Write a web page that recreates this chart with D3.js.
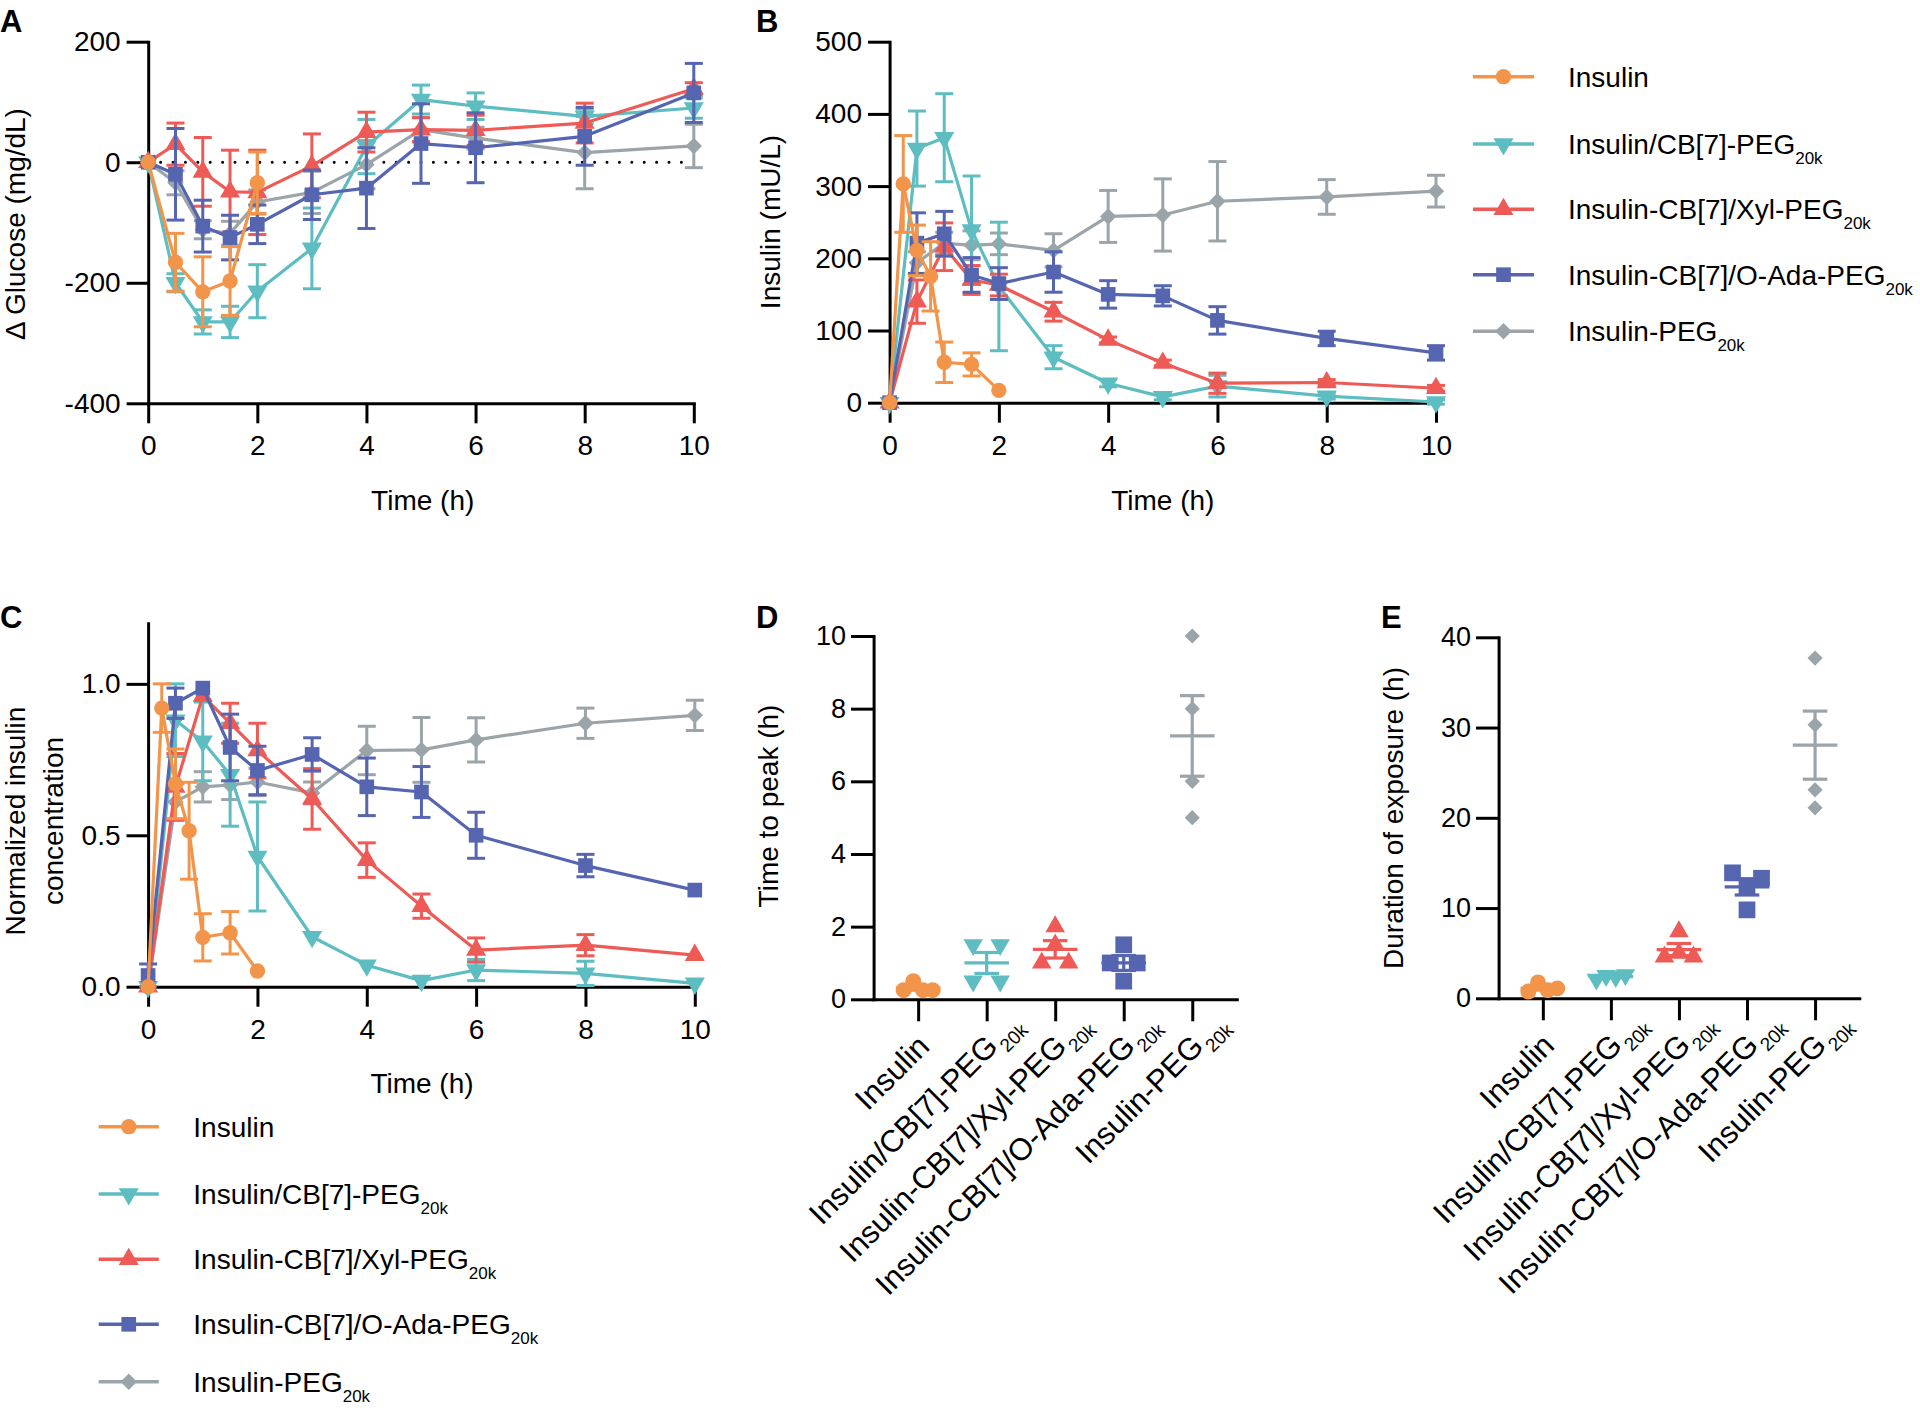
<!DOCTYPE html>
<html><head><meta charset="utf-8">
<script src="https://cdn.jsdelivr.net/npm/d3@7"></script>
<style>
body{margin:0;background:#fff}
svg{display:block}
text{font-family:Arial,"Liberation Sans",Helvetica,sans-serif;fill:#000}
</style>
</head><body>
<svg id="chart" width="1920" height="1411"></svg>
<script>
// ---------- shared ----------
const seriesNames = ["Insulin","Insulin/CB[7]-PEG","Insulin-CB[7]/Xyl-PEG","Insulin-CB[7]/O-Ada-PEG","Insulin-PEG"];
const seriesSubs  = ["","20k","20k","20k","20k"];
const colors      = ["#F2954A","#5DBDC1","#EE5A55","#5565B0","#9BA5A9"];
const symbolKinds = ["circle","triangleDown","triangle","square","diamond"];

const timeStd   = [0,0.5,1,1.5,2,3,4,5,6,8,10];
const timeInsA  = [0,0.5,1,1.5,2];
const timeInsPK = [0,0.25,0.5,0.75,1,1.5,2];

// ---------- Panel A: delta glucose (mg/dL) ----------
const gluInsulin     = [0,-166,-215,-197,-34];
const gluInsulinErr  = [0,48,58,57,51];
const gluCB7         = [0,-200,-265,-265,-214,-143,26,104,93,76,90];
const gluCB7Err      = [0,15,20,26,44,67,45,24,22,12,17];
const gluXyl         = [0,30,-16,-49,-50,-6,50,54,53,65,122];
const gluXylErr      = [0,35,57,69,70,53,33,20,25,33,10];
const gluAda         = [0,-20,-106,-125,-103,-54,-43,31,24,43,115];
const gluAdaErr      = [0,76,43,37,32,41,67,66,58,48,49];
const gluPEG         = [0,-34,-112,-118,-66,-50,-4,54,40,16,27];
const gluPEGErr      = [0,20,15,20,20,35,40,20,18,60,36];
const gluTicks       = [-400,-200,0,200];

// ---------- Panel B: insulin (mU/L) ----------
const insInsulin    = [0,303,211,175,56,53,17];
const insInsulinErr = [0,67,35,48,28,16,0];
const insCB7        = [0,352,367,239,161,63,27,8,23,9,1];
const insCB7Err     = [0,52,61,75,89,16,5,4,15,4,3];
const insXyl        = [0,140,216,170,163,126,87,55,27,28,20];
const insXylErr     = [0,30,33,20,15,13,4,4,14,4,4];
const insAda        = [0,221,234,177,165,181,150,148,114,89,69];
const insAdaErr     = [0,42,31,24,22,28,19,14,19,10,10];
const insPEG        = [0,194,221,218,220,211,258,260,279,285,293];
const insPEGErr     = [0,15,15,20,15,23,36,50,55,24,22];
const insTicks      = [0,100,200,300,400,500];

// ---------- Panel C: normalized insulin ----------
const nrmInsulin    = [0,0.92,0.67,0.515,0.163,0.178,0.052];
const nrmInsulinErr = [0,0.08,0.115,0.16,0.078,0.07,0];
const nrmCB7        = [0,0.88,0.81,0.70,0.43,0.165,0.071,0.02,0.055,0.044,0.011];
const nrmCB7Err     = [0,0.12,0.13,0.17,0.18,0,0,0,0.035,0.04,0];
const nrmXyl        = [0,0.66,0.96,0.87,0.78,0.62,0.418,0.266,0.121,0.137,0.104];
const nrmXylErr     = [0,0.11,0,0.066,0.09,0.1,0.057,0.04,0.04,0.035,0];
const nrmAda        = [0.037,0.936,0.986,0.79,0.714,0.767,0.66,0.643,0.5,0.40,0.319];
const nrmAdaErr     = [0.038,0.05,0,0.11,0.08,0.055,0.095,0.084,0.076,0.037,0];
const nrmPEG        = [0,0.61,0.66,0.666,0.676,0.64,0.78,0.782,0.815,0.87,0.896];
const nrmPEGErr     = [0,0.06,0.05,0.048,0.045,0.036,0.08,0.107,0.073,0.05,0.05];
const nrmTicks      = [0,0.5,1.0];

// ---------- Panel D: time to peak (h), individual animals ----------
const tpInsulin = [0.25,0.5,0.25,0.25];
const tpCB7     = [1.5,1.5,0.5,0.5];
const tpXyl     = [2,1.5,1,1];
const tpAda     = [1.5,1,1,0.5];
const tpPEG     = [10,8,6,5];
const tpTicks   = [0,2,4,6,8,10];

// ---------- Panel E: duration of exposure (h) ----------
const durInsulin = [0.75,1.75,0.9,1.1];
const durCB7     = [2.1,2.5,2.4,2.6];
const durXyl     = [7.4,4.6,5.0,4.6];
const durAda     = [13.9,12.4,13.3,9.8];
const durPEG     = [37.7,30.3,23.1,21.1];
const durTicks   = [0,10,20,30,40];

// ---------- helpers ----------
const svg = d3.select("#chart");
const FONT = 'Arial,"Liberation Sans",Helvetica,sans-serif';
const plainFmt = d => String(d);           // hyphen minus like the original
const oneDec   = d => d.toFixed(1);

function symbolPath(i, size){
  const k = symbolKinds[i];
  const type = k==="circle"?d3.symbolCircle : (k==="square"||k==="diamond")?d3.symbolSquare : d3.symbolTriangle;
  return d3.symbol().type(type).size(size)();
}
function symbolRot(i){
  const k = symbolKinds[i];
  return k==="triangleDown"?180 : k==="diamond"?45 : 0;
}
const symSizes = {circle:185, triangleDown:175, triangle:175, square:215, diamond:135};
const symSizesDot = {circle:200, triangleDown:165, triangle:165, square:280, diamond:115};

function drawMarker(g, i, x, y, size){
  g.append("path").attr("d", symbolPath(i, size))
    .attr("transform", `translate(${x},${y}) rotate(${symbolRot(i)})`)
    .attr("fill", colors[i]);
}

function styleAxis(g, fs){
  g.attr("font-family", FONT).attr("font-size", fs);
  g.selectAll("path.domain").attr("stroke","#000").attr("stroke-width",3).attr("stroke-linecap","square");
  g.selectAll(".tick line").attr("stroke","#000").attr("stroke-width",3);
  g.selectAll(".tick text").attr("fill","#000");
}

function drawSeries(g, xs, ys, times, vals, errs, i){
  const col = colors[i];
  const pts = times.map((t,k)=>({x:xs(t), v:vals[k], e:errs[k]}));
  g.append("path")
    .attr("d", d3.line().x(d=>d.x).y(d=>ys(d.v))(pts))
    .attr("fill","none").attr("stroke",col).attr("stroke-width",3.2).attr("stroke-linejoin","round");
  const cap = 9;
  pts.filter(d=>d.e>0).forEach(d=>{
    const y1 = ys(d.v+d.e), y2 = ys(d.v-d.e);
    g.append("line").attr("x1",d.x).attr("x2",d.x).attr("y1",y1).attr("y2",y2).attr("stroke",col).attr("stroke-width",3);
    [y1,y2].forEach(yy=>g.append("line").attr("x1",d.x-cap).attr("x2",d.x+cap).attr("y1",yy).attr("y2",yy).attr("stroke",col).attr("stroke-width",3));
  });
  pts.forEach(d=>drawMarker(g, i, d.x, ys(d.v), symSizes[symbolKinds[i]]));
}

function panelLetter(x, y, s){
  svg.append("text").attr("x",x).attr("y",y).attr("font-size",31).attr("font-weight","bold").text(s);
}
function yTitle(x, y, s, fs){
  svg.append("text").attr("transform",`translate(${x},${y}) rotate(-90)`).attr("text-anchor","middle").attr("font-size",fs||28).text(s);
}
function xTitle(x, y, s){
  svg.append("text").attr("x",x).attr("y",y).attr("text-anchor","middle").attr("font-size",28).text(s);
}

function timePanel(cfg){
  const g = svg.append("g");
  const xs = d3.scaleLinear().domain([0,10]).range(cfg.xr);
  const ys = d3.scaleLinear().domain(cfg.yd).range(cfg.yr);
  const ax = g.append("g").attr("transform",`translate(0,${cfg.yr[0]})`)
    .call(d3.axisBottom(xs).tickValues([0,2,4,6,8,10]).tickSize(20).tickSizeOuter(0).tickPadding(12).tickFormat(plainFmt));
  styleAxis(ax, 28);
  const ay = g.append("g").attr("transform",`translate(${cfg.xr[0]},0)`)
    .call(d3.axisLeft(ys).tickValues(cfg.ticks).tickSize(21.6).tickSizeOuter(0).tickPadding(6).tickFormat(cfg.fmt));
  styleAxis(ay, 28);
  if (cfg.zeroLine){
    g.append("line").attr("x1",xs(0)).attr("x2",xs(10)).attr("y1",ys(0)).attr("y2",ys(0))
      .attr("stroke","#000").attr("stroke-width",3).attr("stroke-dasharray","0 12.4").attr("stroke-linecap","round");
  }
  cfg.order.forEach(i=>{
    const s = cfg.series[i];
    drawSeries(g, xs, ys, s[0], s[1], s[2], i);
  });
}

function legend(x0, x1, tx, rows){
  const g = svg.append("g");
  seriesNames.forEach((n,i)=>{
    const y = rows[i];
    g.append("line").attr("x1",x0).attr("x2",x1).attr("y1",y).attr("y2",y).attr("stroke",colors[i]).attr("stroke-width",3.5);
    drawMarker(g, i, (x0+x1)/2, y, symSizes[symbolKinds[i]]);
    const t = g.append("text").attr("x",tx).attr("y",y+10).attr("font-size",28).text(n);
    if (seriesSubs[i]) t.append("tspan").attr("font-size",17).attr("dy",10).text(seriesSubs[i]);
  });
}

function swarmOffsets(vals, ys, diam){
  const rows = [];
  vals.forEach((v,k)=>{
    const py = ys(v);
    let r = rows.find(r=>Math.abs(r.py-py) < diam);
    if (!r){ r = {py, idx:[]}; rows.push(r); }
    r.idx.push(k);
  });
  const off = new Array(vals.length).fill(0);
  rows.forEach(r=>{
    const n = r.idx.length;
    const sp = n>1 ? Math.min(27, 29/(n-1)) : 0;
    r.idx.forEach((k,j)=>{ off[k] = (j-(n-1)/2)*sp; });
  });
  return off;
}

function dotPanel(cfg){
  const g = svg.append("g");
  const xs = d3.scalePoint().domain(d3.range(seriesNames.length)).range(cfg.xr).padding(0.65);
  const ys = d3.scaleLinear().domain(cfg.yd).range(cfg.yr);
  const ax = g.append("g").attr("transform",`translate(0,${cfg.yr[0]})`)
    .call(d3.axisBottom(xs).tickSize(22).tickSizeOuter(0).tickFormat(""));
  styleAxis(ax, 27);
  const ay = g.append("g").attr("transform",`translate(${cfg.xr[0]},0)`)
    .call(d3.axisLeft(ys).tickValues(cfg.ticks).tickSize(22.6).tickSizeOuter(0).tickPadding(5).tickFormat(plainFmt));
  styleAxis(ay, 27);
  cfg.data.forEach((vals,i)=>{
    const cx = xs(i);
    const off = swarmOffsets(vals, ys, 14);
    vals.forEach((v,k)=>drawMarker(g, i, cx+off[k], ys(v), symSizesDot[symbolKinds[i]]));
    const m = d3.mean(vals), sem = d3.deviation(vals)/Math.sqrt(vals.length);
    const col = colors[i];
    g.append("line").attr("x1",cx-22.3).attr("x2",cx+22.3).attr("y1",ys(m)).attr("y2",ys(m)).attr("stroke",col).attr("stroke-width",3.2);
    g.append("line").attr("x1",cx).attr("x2",cx).attr("y1",ys(m+sem)).attr("y2",ys(m-sem)).attr("stroke",col).attr("stroke-width",3.2);
    [m+sem, m-sem].forEach(v=>g.append("line").attr("x1",cx-12.3).attr("x2",cx+12.3).attr("y1",ys(v)).attr("y2",ys(v)).attr("stroke",col).attr("stroke-width",3.2));
  });
  // rotated category labels
  seriesNames.forEach((n,i)=>{
    const lg = g.append("g").attr("transform",`translate(${xs(i)+13},${cfg.yr[0]+49}) rotate(-45)`);
    lg.append("text").attr("text-anchor","end").attr("font-size",31).text(n);
    if (seriesSubs[i]) lg.append("text").attr("x",2).attr("y",9).attr("font-size",19).text(seriesSubs[i]);
  });
}

// ---------- build ----------
const drawOrder = [4,1,2,3,0];

timePanel({
  xr:[148.2,693.8], yd:[-400,200], yr:[403.3,41.7], ticks:gluTicks, fmt:plainFmt, zeroLine:true, order:drawOrder,
  series:[[timeInsA,gluInsulin,gluInsulinErr],[timeStd,gluCB7,gluCB7Err],[timeStd,gluXyl,gluXylErr],[timeStd,gluAda,gluAdaErr],[timeStd,gluPEG,gluPEGErr]]
});
timePanel({
  xr:[889.6,1436], yd:[0,500], yr:[402.7,41.7], ticks:insTicks, fmt:plainFmt, order:drawOrder,
  series:[[timeInsPK,insInsulin,insInsulinErr],[timeStd,insCB7,insCB7Err],[timeStd,insXyl,insXylErr],[timeStd,insAda,insAdaErr],[timeStd,insPEG,insPEGErr]]
});
timePanel({
  xr:[148.1,694.8], yd:[0,1.2], yr:[986.7,623.3], ticks:nrmTicks, fmt:oneDec, order:drawOrder,
  series:[[timeInsPK,nrmInsulin,nrmInsulinErr],[timeStd,nrmCB7,nrmCB7Err],[timeStd,nrmXyl,nrmXylErr],[timeStd,nrmAda,nrmAdaErr],[timeStd,nrmPEG,nrmPEGErr]]
});
dotPanel({xr:[873.6,1236.8], yd:[0,10], yr:[999.3,636], ticks:tpTicks, data:[tpInsulin,tpCB7,tpXyl,tpAda,tpPEG]});
dotPanel({xr:[1498.6,1859.3], yd:[0,40], yr:[998.3,637.3], ticks:durTicks, data:[durInsulin,durCB7,durXyl,durAda,durPEG]});

legend(1473,1534,1568,[76.7,144,209.3,274.7,331.3]);
legend(98.7,158.8,193.3,[1126.7,1194,1259.3,1324.3,1381.7]);

panelLetter(0,32,"A"); panelLetter(756,32,"B"); panelLetter(0,628,"C"); panelLetter(756,628,"D"); panelLetter(1381,628,"E");

yTitle(25,224,"Δ Glucose (mg/dL)");
yTitle(780,222,"Insulin (mU/L)");
yTitle(25,821,"Normalized insulin");
yTitle(63,821,"concentration");
yTitle(778,806,"Time to peak (h)");
yTitle(1403,818,"Duration of exposure (h)");

xTitle(422.7,510,"Time (h)");
xTitle(1162.8,510,"Time (h)");
xTitle(422,1093,"Time (h)");
</script>
</body></html>
